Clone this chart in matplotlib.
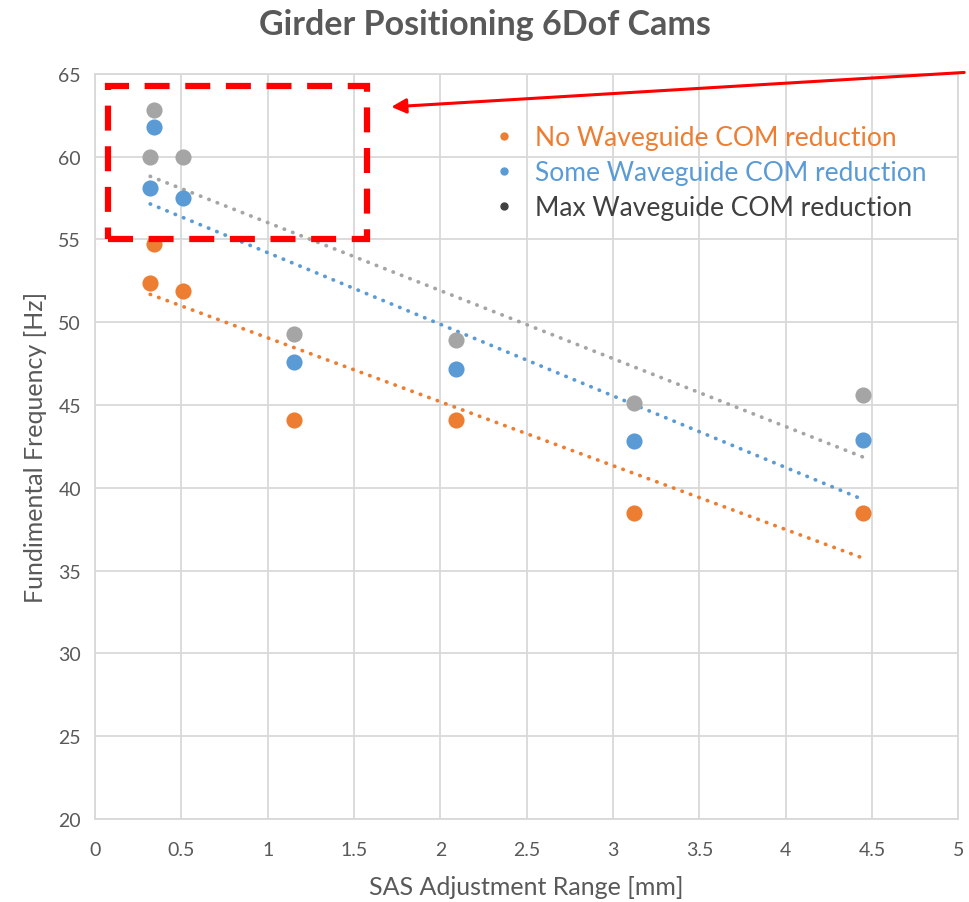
import numpy as np
from matplotlib import pyplot as plt
from matplotlib.patches import Rectangle
from matplotlib.lines import Line2D

plt.rcParams['font.family'] = ['Lato', 'DejaVu Sans']

# data
x_range = [0.32, 0.34, 0.51, 1.15, 2.09, 3.12, 4.45]
no_com = [52.4, 54.7, 51.9, 44.1, 44.1, 38.5, 38.5]
some_com = [58.1, 61.8, 57.5, 47.6, 47.2, 42.8, 42.9]
max_com = [60.0, 62.8, 60.0, 49.3, 48.9, 45.1, 45.6]

labels = ['No Waveguide COM reduction', 'Some Waveguide COM reduction',
          'Max Waveguide COM reduction']
colors = ['#ED7D31', '#5B9BD5', '#A5A5A5']
text_colors = ['#ED7D31', '#5B9BD5', '#404040']
series = [no_com, some_com, max_com]

fig = plt.figure(figsize=(9.69, 9.03), dpi=100)
ax = fig.add_axes([0.098, 0.092, 0.891, 0.825])

xs = np.array(x_range)
for ys, c in zip(series, colors):
    ax.scatter(xs, ys, s=135, color=c, zorder=3, linewidths=0)
    # linear trendline like excel
    k, b = np.polyfit(xs, ys, 1)
    xt = np.array([xs.min(), xs.max()])
    ax.plot(xt, k * xt + b, color=c, lw=2.7, linestyle=(0, (0.1, 2.3)),
            dash_capstyle='round', zorder=2)

ax.set_xlim(0, 5)
ax.set_ylim(20, 65)
ax.set_xticks(np.arange(0, 5.01, 0.5))
ax.set_xticklabels(['0', '0.5', '1', '1.5', '2', '2.5', '3', '3.5', '4', '4.5', '5'])
ax.set_yticks(range(20, 66, 5))
ax.grid(True, color='#d9d9d9', lw=1.3)
ax.set_axisbelow(True)
for s in ax.spines.values():
    s.set_color('#d9d9d9')
    s.set_linewidth(1.3)
ax.tick_params(axis='both', length=0, labelsize=14, colors='#595959', pad=10)
ax.tick_params(axis='x', pad=16)

ax.set_xlabel('SAS Adjustment Range [mm]', fontsize=18, color='#595959', labelpad=12)
ax.set_ylabel('Fundimental Frequency [Hz]', fontsize=18, color='#595959', labelpad=8)
fig.suptitle('Girder Positioning 6Dof Cams', fontsize=24.5, fontweight='bold',
             color='#595959', y=0.99)

# legend without frame, text in series colour
handles = [Line2D([], [], marker='o', linestyle='none', color=c, markersize=5)
           for c in text_colors]
leg = ax.legend(handles, labels, loc='upper left', bbox_to_anchor=(0.458, 0.931),
                frameon=False, fontsize=19, handletextpad=0.68, labelspacing=0.37,
                handlelength=1.0, borderpad=0, borderaxespad=0)
for t, c in zip(leg.get_texts(), text_colors):
    t.set_color(c)

# red dashed box and arrow
ax.add_patch(Rectangle((0.075, 55.0), 1.5, 9.3, fill=False, edgecolor='red',
                       lw=4.5, linestyle=(0, (4, 2.5)), zorder=4, clip_on=False))
ax.annotate('', xy=(1.70, 63.0), xytext=(5.05, 65.1),
            arrowprops=dict(arrowstyle='-|>', color='red', lw=2.2, mutation_scale=22),
            annotation_clip=False)

plt.savefig('out.png', dpi=100)
